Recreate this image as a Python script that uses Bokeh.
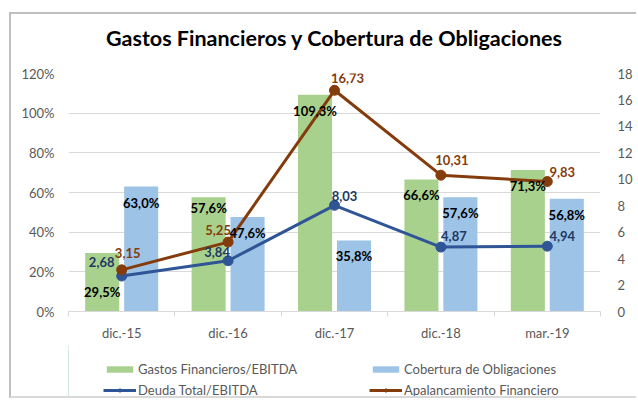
from bokeh.plotting import figure
from bokeh.layouts import column
from bokeh.models import (Range1d, LinearAxis, FixedTicker, PrintfTickFormatter,
                          ColumnDataSource, Legend, LegendItem, InlineStyleSheet)
from bokeh.transform import dodge
from bokeh.embed import file_html
from bokeh.resources import INLINE
from bokeh.core.properties import value

categories = ["dic.-15", "dic.-16", "dic.-17", "dic.-18", "mar.-19"]
gastos_ebitda = [29.5, 57.6, 109.3, 66.6, 71.3]
cobertura = [63.0, 47.6, 35.8, 57.6, 56.8]
deuda_ebitda = [2.68, 3.84, 8.03, 4.87, 4.94]
apalancamiento = [3.15, 5.25, 16.73, 10.31, 9.83]

FONT = "Lato"
GREEN = "#A9D18E"
BLUE = "#9DC3E6"
NAVY = "#2F5597"
BROWN = "#843C0C"
GRAY = "#595959"

xs = [i + 0.5 for i in range(len(categories))]

def pct(v):
    return f"{v:.1f}".replace(".", ",") + "%"

def dec(v):
    return f"{v:.2f}".replace(".", ",")

src = ColumnDataSource(dict(
    x=xs, cat=categories,
    g=gastos_ebitda, c=cobertura, d=deuda_ebitda, a=apalancamiento,
    g_lbl=[pct(v) for v in gastos_ebitda],
    c_lbl=[pct(v) for v in cobertura],
    d_lbl=[dec(v) for v in deuda_ebitda],
    a_lbl=[dec(v) for v in apalancamiento],
    g_dy=[39, 11, 16, 15.5, 16],
    c_dy=[16, 15.5, 16, 16, 16],
    d_dx=[-20, -11, 10, 13, 15], d_dy=[-14, -9, -9, -11, -10],
    a_dx=[6, -10, 13, 11, 15], a_dy=[-17, -12, -12, -15, -10],
))

p = figure(width=636, height=345, output_backend="svg", toolbar_location=None,
           x_range=Range1d(0, len(categories)), y_range=Range1d(0, 120),
           min_border_left=68, min_border_right=36, min_border_top=72,
           min_border_bottom=34, background_fill_color="white",
           border_fill_color="white")
p.outline_line_color = None

p.title.text = "Gastos Financieros y Cobertura de Obligaciones"
p.title.align = "center"
p.title.text_font = FONT
p.title.text_font_style = "bold"
p.title.text_font_size = "21.5px"
p.title.text_color = "black"
p.title.standoff = 45

p.extra_y_ranges = {"r": Range1d(0, 18)}

p.yaxis.ticker = FixedTicker(ticks=[0, 20, 40, 60, 80, 100, 120])
p.yaxis.formatter = PrintfTickFormatter(format="%d%%")
p.yaxis.axis_line_color = None
p.yaxis.major_tick_line_color = None
p.yaxis.major_tick_out = 0
p.yaxis.minor_tick_line_color = None
p.yaxis.major_label_text_font = FONT
p.yaxis.major_label_text_font_size = "13px"
p.yaxis.major_label_text_color = GRAY
p.yaxis.major_label_standoff = 14

ry = LinearAxis(y_range_name="r", ticker=FixedTicker(ticks=list(range(0, 19, 2))))
ry.axis_line_color = None
ry.major_tick_line_color = None
ry.major_tick_out = 0
ry.minor_tick_line_color = None
ry.major_label_text_font = FONT
ry.major_label_text_font_size = "13px"
ry.major_label_text_color = GRAY
ry.major_label_standoff = 17
p.add_layout(ry, "right")

p.xaxis.ticker = FixedTicker(ticks=xs, minor_ticks=list(range(len(categories) + 1)))
p.xaxis.major_label_overrides = {x: c for x, c in zip(xs, categories)}
p.xaxis.axis_line_color = "#D9D9D9"
p.xaxis.major_tick_line_color = None
p.xaxis.major_tick_out = 0
p.xaxis.minor_tick_line_color = "#D9D9D9"
p.xaxis.minor_tick_out = 5
p.xaxis.minor_tick_in = 0
p.xaxis.major_label_text_font = FONT
p.xaxis.major_label_text_font_size = "13px"
p.xaxis.major_label_text_color = GRAY
p.xaxis.major_label_standoff = 8

p.xgrid.grid_line_color = None
p.ygrid.grid_line_color = "#D9D9D9"
p.ygrid.ticker = FixedTicker(ticks=[20, 40, 60, 80, 100, 120])

bw = 0.32
off = 0.183
gbar = p.vbar(x=dodge("x", -off, range=p.x_range), top="g", width=bw, source=src,
              fill_color=GREEN, line_color=None)
cbar = p.vbar(x=dodge("x", off, range=p.x_range), top="c", width=bw, source=src,
              fill_color=BLUE, line_color=None)

dline = p.line("x", "d", source=src, y_range_name="r", line_color=NAVY, line_width=3)
dpts = p.scatter("x", "d", source=src, y_range_name="r", size=10, fill_color=NAVY, line_color=NAVY)
aline = p.line("x", "a", source=src, y_range_name="r", line_color=BROWN, line_width=3)
apts = p.scatter("x", "a", source=src, y_range_name="r", size=10, fill_color=BROWN, line_color=BROWN)

common = dict(source=src, text_font=value(FONT), text_font_size="13px",
              text_font_style="bold", text_align="center", text_baseline="middle")
p.text(x=dodge("x", -off, range=p.x_range), y="g", text="g_lbl", y_offset="g_dy",
       text_color="black", **common)
p.text(x=dodge("x", off, range=p.x_range), y="c", text="c_lbl", y_offset="c_dy",
       text_color="black", **common)
p.text(x="x", y="d", text="d_lbl", x_offset="d_dx", y_offset="d_dy", y_range_name="r",
       text_color="#203864", **common)
p.text(x="x", y="a", text="a_lbl", x_offset="a_dx", y_offset="a_dy", y_range_name="r",
       text_color=BROWN, **common)

# legend strip below the chart (proxy renderers sit outside the visible range)
pl = figure(width=636, height=53, output_backend="svg", toolbar_location=None,
            x_axis_type=None, y_axis_type=None,
            min_border_left=68, min_border_right=36, min_border_top=0, min_border_bottom=0,
            x_range=Range1d(0, 1), y_range=Range1d(0, 1),
            background_fill_color="white", border_fill_color="white")
pl.outline_line_color = None
pl.grid.grid_line_color = None
lg = pl.vbar(x=[-5], top=[1], width=0.1, fill_color=GREEN, line_color=None)
lc = pl.vbar(x=[-5], top=[1], width=0.1, fill_color=BLUE, line_color=None)
ld = pl.line(x=[-5, -4], y=[0, 0], line_color=NAVY, line_width=3)
ldp = pl.scatter(x=[-5], y=[0], size=8, fill_color=NAVY, line_color=NAVY)
la = pl.line(x=[-5, -4], y=[0, 0], line_color=BROWN, line_width=3)
lap = pl.scatter(x=[-5], y=[0], size=8, fill_color=BROWN, line_color=BROWN)

legend = Legend(items=[
    LegendItem(label="Gastos Financieros/EBITDA", renderers=[lg]),
    LegendItem(label="Deuda Total/EBITDA", renderers=[ld, ldp]),
    LegendItem(label="Cobertura de Obligaciones", renderers=[lc]),
    LegendItem(label="Apalancamiento Financiero", renderers=[la, lap]),
], ncols=2)
legend.label_text_font = FONT
legend.label_text_font_size = "13px"
legend.label_text_color = GRAY
legend.glyph_width = 33
legend.glyph_height = 8
legend.label_height = 14
legend.label_width = 226
legend.label_standoff = 2
legend.spacing = 5
legend.padding = 0
legend.margin = 0
legend.border_line_color = None
legend.background_fill_alpha = 0
legend.location = (35, 0)
pl.add_layout(legend)

border = InlineStyleSheet(css="""
:host { position: relative; }
:host::after {
  content: ""; position: absolute; left: 9px; top: 12px; right: 0px; bottom: 0px;
  border-left: 2px solid #BFBFBF; border-top: 2px solid #BFBFBF;
  border-bottom: 2px solid #D9D9D9; pointer-events: none;
}
""")
layout = column(p, pl, spacing=0, stylesheets=[border])

open("out.html", "w").write(file_html(layout, INLINE))
